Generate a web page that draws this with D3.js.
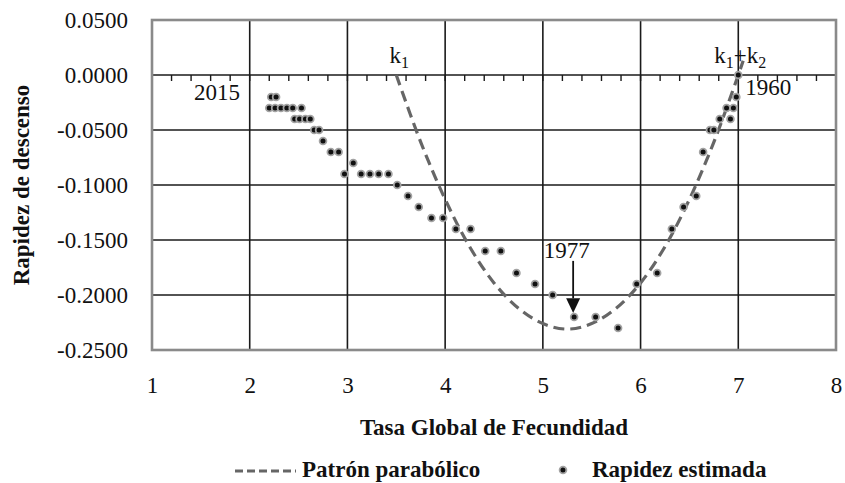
<!DOCTYPE html>
<html>
<head>
<meta charset="utf-8">
<script src="https://cdn.jsdelivr.net/npm/d3@7"></script>
<style>
  body { margin: 0; background: #fff; }
  svg text { font-family: "Liberation Serif", "DejaVu Serif", Times, serif; fill: #111; }
</style>
</head>
<body>
<svg id="chart" width="845" height="483"></svg>
<script>
// estimated speed of decline vs TGF (one point per year, 1960 -> 2015)
var tgf = [2.20, 2.22, 2.26, 2.27, 2.32, 2.38, 2.44, 2.46, 2.51, 2.53, 2.57, 2.62, 2.66, 2.71, 2.75,
  2.83, 2.91, 2.97, 3.06, 3.14, 3.23, 3.32, 3.42, 3.51, 3.62, 3.73, 3.86, 3.98, 4.11, 4.26,
  4.41, 4.57, 4.73, 4.92, 5.10, 5.32, 5.54, 5.77, 5.96, 6.17, 6.32, 6.44, 6.57, 6.64, 6.71,
  6.75, 6.81, 6.88, 6.92, 6.95, 6.98, 7.00];
var rapidez = [-0.03, -0.02, -0.03, -0.02, -0.03, -0.03, -0.03, -0.04, -0.04, -0.03, -0.04, -0.04, -0.05, -0.05, -0.06,
  -0.07, -0.07, -0.09, -0.08, -0.09, -0.09, -0.09, -0.09, -0.10, -0.11, -0.12, -0.13, -0.13, -0.14, -0.14,
  -0.16, -0.16, -0.18, -0.19, -0.20, -0.22, -0.22, -0.23, -0.19, -0.18, -0.14, -0.12, -0.11, -0.07, -0.05,
  -0.05, -0.04, -0.03, -0.04, -0.03, -0.02, 0.00];

// parabolic pattern
var curveX = [3.50, 3.75, 4.00, 4.25, 4.50, 4.75, 5.00, 5.25, 5.50, 5.75, 6.00, 6.25, 6.50, 6.75, 7.00, 7.05];
var curveY = [0.000, -0.061, -0.113, -0.156, -0.189, -0.212, -0.226, -0.231, -0.226, -0.212, -0.189, -0.156, -0.113, -0.061, 0.000, 0.013];

var xTicks = [1, 2, 3, 4, 5, 6, 7, 8];
var yTicks = [0.05, 0, -0.05, -0.10, -0.15, -0.20, -0.25];
var xMinor = d3.range(1, 8.001, 0.2);

var FONT = '"Liberation Serif", "DejaVu Serif", Times, serif';
var margin = { top: 20, right: 9, bottom: 133, left: 152 };
var W = 845, H = 483;
var width = W - margin.left - margin.right;
var height = H - margin.top - margin.bottom;
var FS = 23;

var x = d3.scaleLinear().domain([1, 8]).range([0, width]);
var y = d3.scaleLinear().domain([-0.25, 0.05]).range([height, 0]);

var svg = d3.select("#chart")
  .append("g")
  .attr("transform", "translate(" + margin.left + "," + margin.top + ")");

// grid
svg.selectAll(".vgrid").data(xTicks.slice(1, -1)).enter()
  .append("line")
  .attr("x1", function(d) { return x(d); }).attr("x2", function(d) { return x(d); })
  .attr("y1", 0).attr("y2", height)
  .style("stroke", "#1a1a1a").style("stroke-width", 1.6);
svg.selectAll(".hgrid").data(yTicks.slice(1, -1)).enter()
  .append("line")
  .attr("x1", 0).attr("x2", width)
  .attr("y1", function(d) { return y(d); }).attr("y2", function(d) { return y(d); })
  .style("stroke", "#1a1a1a").style("stroke-width", 1.6);

// minor ticks on the zero line
svg.selectAll(".minor").data(xMinor).enter()
  .append("line")
  .attr("x1", function(d) { return x(d); }).attr("x2", function(d) { return x(d); })
  .attr("y1", y(0)).attr("y2", y(0) + 6)
  .style("stroke", "#1a1a1a").style("stroke-width", 1.4);

// frame
svg.append("rect")
  .attr("width", width).attr("height", height)
  .style("fill", "none").style("stroke", "#8a8a8a").style("stroke-width", 2.6);

// axes (labels only)
var yAxis = d3.axisLeft(y).tickValues(yTicks).tickSize(0).tickPadding(24)
  .tickFormat(function(d) { return d.toFixed(4); });
var gy = svg.append("g").call(yAxis).attr("font-family", null);
gy.select(".domain").remove();
gy.selectAll("text").style("font-size", FS + "px").style("font-family", FONT);

var xAxis = d3.axisBottom(x).tickValues(xTicks).tickSize(0).tickPadding(27).tickFormat(d3.format("d"));
var gx = svg.append("g").attr("transform", "translate(0," + height + ")").call(xAxis).attr("font-family", null);
gx.select(".domain").remove();
gx.selectAll("text").style("font-size", FS + "px").style("font-family", FONT);

// axis titles
svg.append("text")
  .attr("x", width / 2).attr("y", height + 85)
  .attr("text-anchor", "middle")
  .style("font-size", FS + "px").style("font-weight", "bold")
  .text("Tasa Global de Fecundidad");
svg.append("text")
  .attr("transform", "translate(" + (-123) + "," + (height / 2) + ") rotate(-90)")
  .attr("text-anchor", "middle")
  .style("font-size", FS + "px").style("font-weight", "bold")
  .text("Rapidez de descenso");

// parabola
var line = d3.line()
  .x(function(d, i) { return x(curveX[i]); })
  .y(function(d, i) { return y(curveY[i]); })
  .curve(d3.curveCatmullRom);
svg.append("path")
  .datum(curveX)
  .attr("d", line)
  .style("fill", "none").style("stroke", "#666").style("stroke-width", 3.2)
  .style("stroke-dasharray", "11,6");

// points
svg.selectAll(".pt").data(tgf).enter()
  .append("circle")
  .attr("cx", function(d) { return x(d); })
  .attr("cy", function(d, i) { return y(rapidez[i]); })
  .attr("r", 3.4)
  .style("fill", "#111").style("stroke", "#a3a3a3").style("stroke-width", 1.8);

// annotations
function kLabel(xv, yv, parts) {
  var t = svg.append("text").attr("x", x(xv)).attr("y", y(yv))
    .attr("text-anchor", "middle").style("font-size", FS + "px");
  parts.forEach(function(p) {
    var s = t.append("tspan").text(p[0]);
    if (p[1]) s.attr("dy", 5).style("font-size", "16px");
    else if (p[2]) s.attr("dy", -5);
  });
}
kLabel(3.53, 0.011, [["k"], ["1", true]]);
kLabel(7.02, 0.011, [["k"], ["1", true], ["+", false, true], ["k"], ["2", true]]);

svg.append("text").attr("x", x(1.9)).attr("y", y(-0.0227))
  .attr("text-anchor", "end").style("font-size", FS + "px").text("2015");
svg.append("text").attr("x", x(7.07)).attr("y", y(-0.018))
  .attr("text-anchor", "start").style("font-size", FS + "px").text("1960");
svg.append("text").attr("x", x(5.0) + 1).attr("y", y(-0.166))
  .attr("text-anchor", "start").style("font-size", FS + "px").text("1977");

// arrow to 1977
var ax = x(5.31);
svg.append("line")
  .attr("x1", ax).attr("x2", ax)
  .attr("y1", y(-0.169)).attr("y2", y(-0.203))
  .style("stroke", "#111").style("stroke-width", 1.8);
svg.append("path")
  .attr("d", "M" + (ax - 7) + "," + y(-0.2029) + "L" + (ax + 7) + "," + y(-0.2029) + "L" + ax + "," + y(-0.2164) + "Z")
  .style("fill", "#111");

// legend
var leg = d3.select("#chart").append("g");
leg.append("line")
  .attr("x1", 235).attr("x2", 296).attr("y1", 471).attr("y2", 471)
  .style("stroke", "#666").style("stroke-width", 3).style("stroke-dasharray", "8,4");
leg.append("text").attr("x", 302).attr("y", 477)
  .style("font-size", FS + "px").style("font-weight", "bold").text("Patrón parabólico");
leg.append("circle").attr("cx", 563).attr("cy", 470).attr("r", 3.4)
  .style("fill", "#111").style("stroke", "#a3a3a3").style("stroke-width", 1.8);
leg.append("text").attr("x", 592).attr("y", 477)
  .style("font-size", FS + "px").style("font-weight", "bold").text("Rapidez estimada");
</script>
</body>
</html>
